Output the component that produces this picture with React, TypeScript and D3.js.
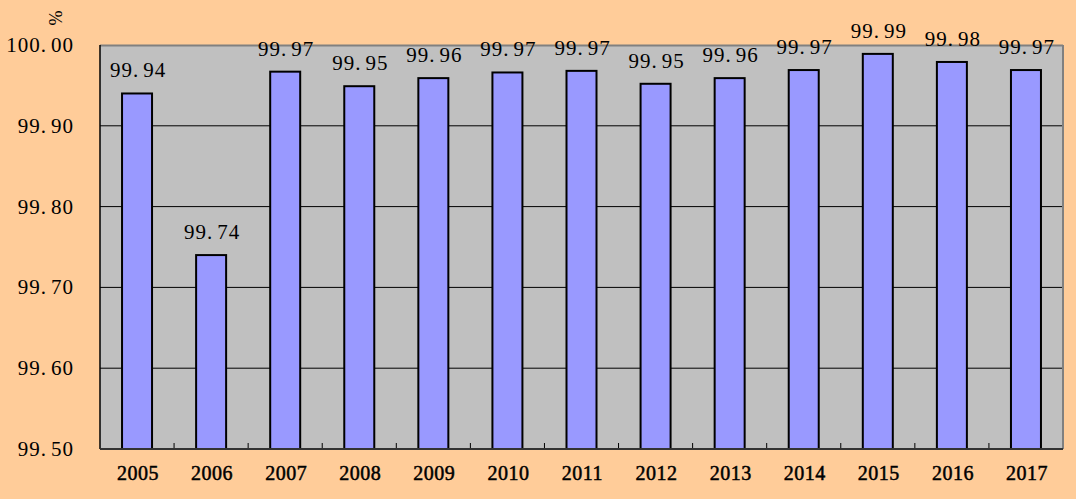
import React from "react";
import * as d3 from "d3";

const years = ["2005","2006","2007","2008","2009","2010","2011","2012","2013","2014","2015","2016","2017"];
const values = [99.94, 99.74, 99.967, 99.949, 99.959, 99.966, 99.968, 99.952, 99.959, 99.969, 99.989, 99.979, 99.969];
const yTicks = [99.5, 99.6, 99.7, 99.8, 99.9, 100.0];
const unitLabel = "%";

const W = 1076, H = 499;
const M = { left: 100, right: 1063, top: 45, bottom: 449 };

function Num({ x, y, v, anchor, size }: { x: number; y: number; v: number; anchor: string; size: number }) {
  const [a, b] = v.toFixed(2).split(".");
  return (
    <text x={x} y={y} textAnchor={anchor} fontFamily="'Liberation Serif', serif" fontSize={size} letterSpacing={1}
      fill="#000">
      <tspan>{a + "."}</tspan>
      <tspan dx={4}>{b}</tspan>
    </text>
  );
}

export default function App() {
  const x = d3.scaleBand<string>().domain(years).range([M.left, M.right]).paddingInner(0).paddingOuter(0);
  const y = d3.scaleLinear().domain([99.5, 100.0]).range([M.bottom, M.top]);
  const bw = x.bandwidth() * 0.405;
  const font = "'Liberation Serif', serif";
  return (
    <svg width={W} height={H} style={{ position: "absolute", left: 0, top: 0, display: "block" }}>
      <rect x={0} y={0} width={W} height={H} fill="#FFCC99" />
      <rect x={M.left} y={M.top} width={M.right - M.left} height={M.bottom - M.top} fill="#C0C0C0" />
      {yTicks.filter(t => t > 99.5 && t < 100).map(t => (
        <line key={t} x1={M.left} x2={M.right} y1={y(t)} y2={y(t)} stroke="#000" strokeWidth={1} />
      ))}
      <line x1={M.left} x2={M.right} y1={M.top + 0.5} y2={M.top + 0.5} stroke="#808080" strokeWidth={2} />
      <line x1={M.right} x2={M.right} y1={M.top} y2={M.bottom} stroke="#808080" strokeWidth={2} />
      <line x1={M.left} x2={M.left} y1={M.top} y2={M.bottom} stroke="#000" strokeWidth={1.5} />
      {years.slice(1).map(yr => (
        <line key={"t" + yr} x1={x(yr)!} x2={x(yr)!} y1={M.bottom} y2={M.bottom - 6} stroke="#000" strokeWidth={1} />
      ))}
      {years.map((yr, i) => {
        const cx = x(yr)! + x.bandwidth() / 2;
        return (
          <rect key={yr} x={cx - bw / 2} y={y(values[i])} width={bw} height={M.bottom - y(values[i])}
            fill="#9999FF" stroke="#000" strokeWidth={2} />
        );
      })}
      <line x1={M.left} x2={M.right} y1={M.bottom} y2={M.bottom} stroke="#333" strokeWidth={2} />
      {years.map((yr, i) => {
        const cx = x(yr)! + x.bandwidth() / 2;
        return <Num key={"l" + yr} x={cx + 1} y={y(values[i]) - 16} v={values[i]} anchor="middle" size={21} />;
      })}
      {yTicks.map(t => (
        <Num key={"y" + t} x={74} y={y(t) + 7} v={t} anchor="end" size={21} />
      ))}
      {years.map(yr => (
        <text key={"x" + yr} x={x(yr)! + x.bandwidth() / 2 + 1} y={480} textAnchor="middle" fontFamily={font} fontSize={20}
          stroke="#000" strokeWidth={0.5} letterSpacing={0.5} fill="#000">{yr}</text>
      ))}
      <text x={0} y={0} transform="translate(55,18) rotate(90)" textAnchor="middle" dominantBaseline="central"
        fontFamily={font} fontSize={18} fill="#000">{unitLabel}</text>
    </svg>
  );
}
